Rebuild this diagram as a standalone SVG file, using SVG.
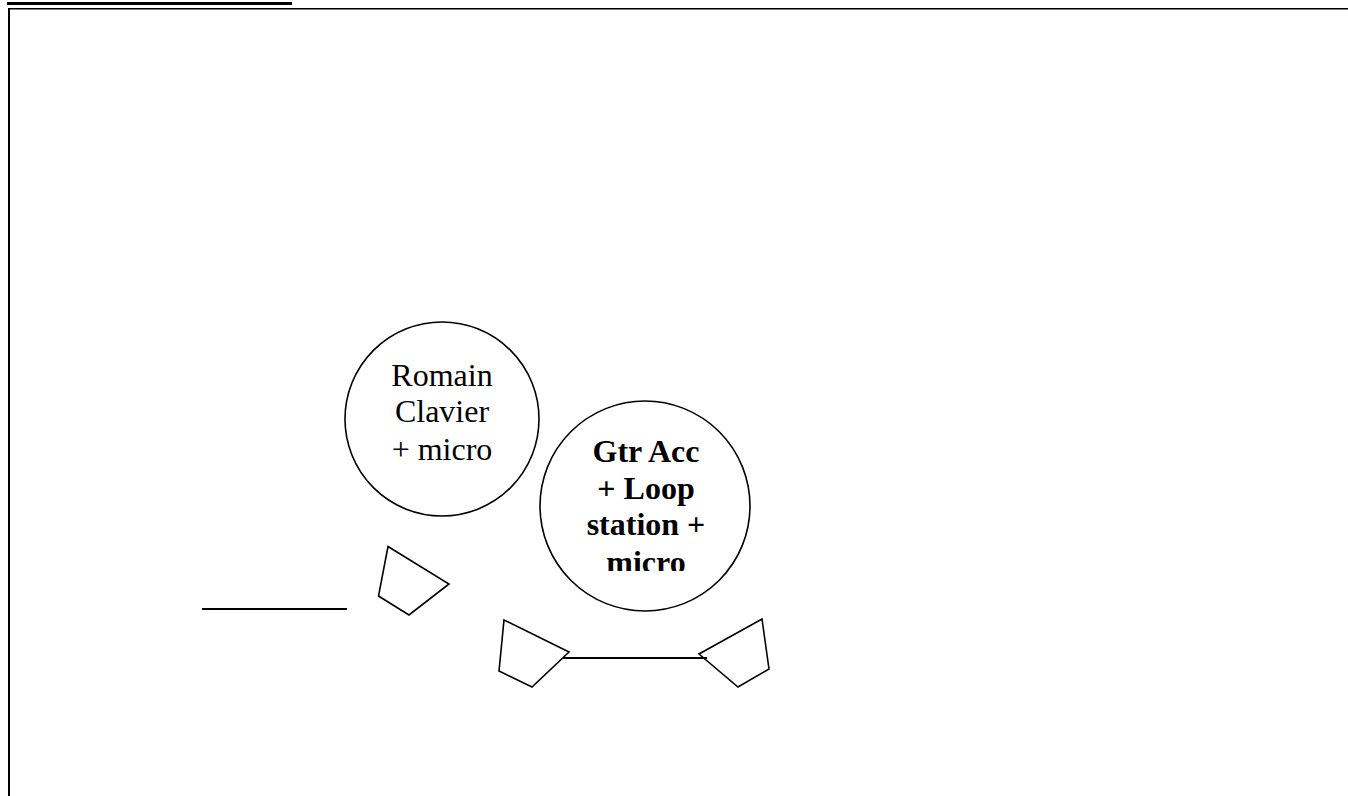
<svg xmlns="http://www.w3.org/2000/svg" width="1348" height="796" viewBox="0 0 1348 796">
<style>
.shape{fill:#fff;stroke:#000;stroke-width:1.6}
.wire{stroke:#000;stroke-width:1.8;fill:none}
.t{font-family:"Liberation Serif","Times New Roman",serif;font-size:32px;text-anchor:middle;fill:#000}
.b{font-weight:bold}
</style>
<defs>
<clipPath id="clip2"><rect x="540" y="420" width="210" height="151"/></clipPath>
</defs>
<rect width="1348" height="796" fill="#fff"/>
<g id="frame">
<rect x="7" y="2" width="285" height="3" fill="#000"/>
<line x1="8" y1="8.75" x2="1348" y2="8.75" stroke="#000" stroke-width="1.5"/>
<rect x="8" y="8" width="2" height="788" fill="#000"/>
</g>
<g id="node-romain">
<circle class="shape" cx="442" cy="419" r="97"/>
<text class="t" x="442" y="386">Romain</text>
<text class="t" x="442" y="422">Clavier</text>
<text class="t" x="442" y="460">+ micro</text>
</g>
<g id="node-gtr">
<circle class="shape" cx="645" cy="506" r="105"/>
<g clip-path="url(#clip2)">
<text class="t b" x="646" y="462">Gtr Acc</text>
<text class="t b" x="646" y="499">+ Loop</text>
<text class="t b" x="646" y="535">station +</text>
<text class="t b" x="646" y="573">micro</text>
</g>
</g>
<g id="speaker-1">
<polygon class="shape" points="388,546.5 449,584 409,615 378.5,596"/>
</g>
<g id="speaker-2">
<polygon class="shape" points="504,620 569,652 532,687 499,671"/>
</g>
<g id="speaker-3">
<polygon class="shape" points="762,619 769,669 738,687 699,654"/>
</g>
<g id="connectors">
<line class="wire" x1="202" y1="609" x2="347" y2="609"/>
<line class="wire" x1="563" y1="658" x2="707" y2="658"/>
</g>
</svg>
